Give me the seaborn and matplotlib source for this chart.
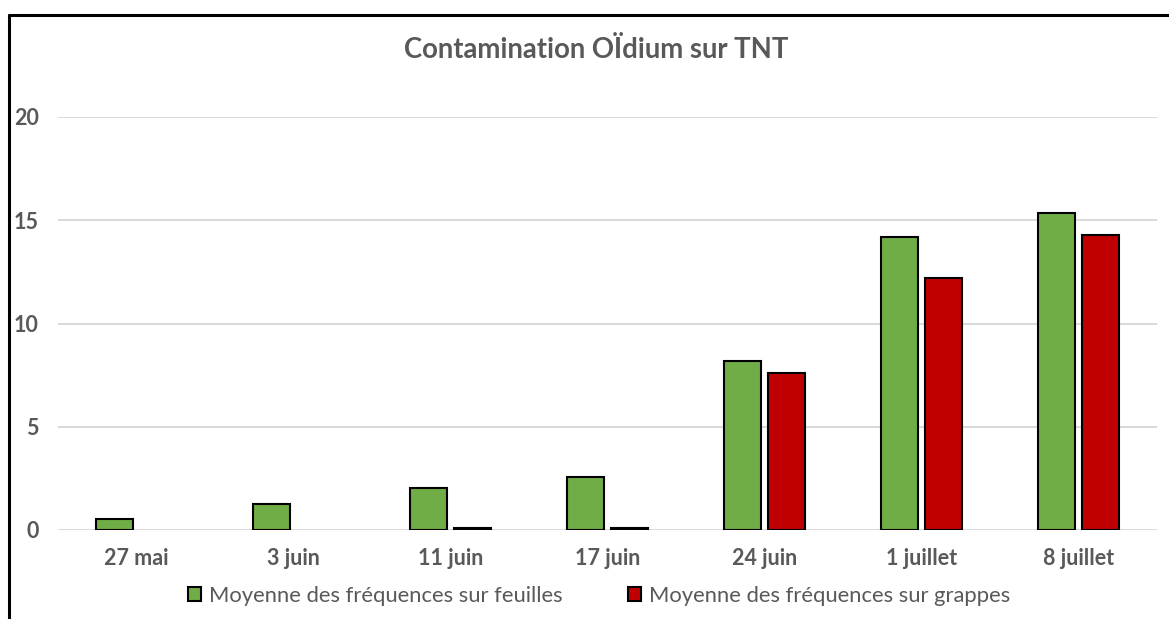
import matplotlib
matplotlib.use("Agg")
import matplotlib.pyplot as plt
from matplotlib.lines import Line2D
import pandas as pd
import seaborn as sns

dates = ["27 mai", "3 juin", "11 juin", "17 juin", "24 juin", "1 juillet", "8 juillet"]
series = ["Moyenne des fréquences sur feuilles", "Moyenne des fréquences sur grappes"]
feuilles = [0.55, 1.25, 2.05, 2.55, 8.2, 14.2, 15.35]
grappes = [None, None, 0.1, 0.1, 7.6, 12.2, 14.3]
couleurs = ["#70AD47", "#C00000"]
gris = "#595959"

lignes = []
for d, f, g in zip(dates, feuilles, grappes):
    lignes.append({"date": d, "serie": series[0], "valeur": f})
    if g is not None:
        lignes.append({"date": d, "serie": series[1], "valeur": g})
df = pd.DataFrame(lignes)

sns.set_style("white")
plt.rcParams["font.family"] = ["Lato", "DejaVu Sans"]

fig = plt.figure(figsize=(11.69, 6.19), dpi=100)
ax = fig.add_axes([58 / 1169, 1 - 530 / 619, 1099 / 1169, 413 / 619])

sns.barplot(data=df, x="date", y="valeur", hue="serie", order=dates, hue_order=series,
            palette=couleurs, width=0.56, gap=0.18, edgecolor="black", linewidth=1.5,
            saturation=1, ax=ax)

ax.set_ylim(0, 20)
ax.set_yticks([0, 5, 10, 15, 20])
ax.set_xlabel("")
ax.set_ylabel("")
ax.yaxis.grid(True, color="#D9D9D9", linewidth=1.4)
ax.set_axisbelow(True)
for s in ax.spines.values():
    s.set_visible(False)
ax.tick_params(axis="both", length=0, labelsize=15.5, labelcolor=gris)
ax.tick_params(axis="y", pad=14)
ax.tick_params(axis="x", pad=13)
for lab in ax.get_xticklabels() + ax.get_yticklabels():
    lab.set_fontweight("bold")

handles, labels = ax.get_legend_handles_labels()
ax.get_legend().remove()
fig.legend(handles, labels, loc="center", bbox_to_anchor=(599 / 1169, 1 - 596 / 619),
           ncol=2, frameon=False, fontsize=15.8, labelcolor=gris,
           handlelength=0.6, handleheight=0.6, handletextpad=0.35, columnspacing=3.0)

fig.text(596 / 1169, 1 - 50 / 619, "Contamination OÏdium sur TNT", ha="center", va="center",
         fontsize=19.8, fontweight="bold", color=gris)

# cadre noir (haut et gauche)
fig.add_artist(Line2D([8.5 / 1169, 1.0], [1 - 14.5 / 619, 1 - 14.5 / 619],
                      color="black", linewidth=2.2, transform=fig.transFigure))
fig.add_artist(Line2D([8.5 / 1169, 8.5 / 1169], [0.0, 1 - 14.5 / 619],
                      color="black", linewidth=2.2, transform=fig.transFigure))

fig.savefig("out.png", dpi=100)
